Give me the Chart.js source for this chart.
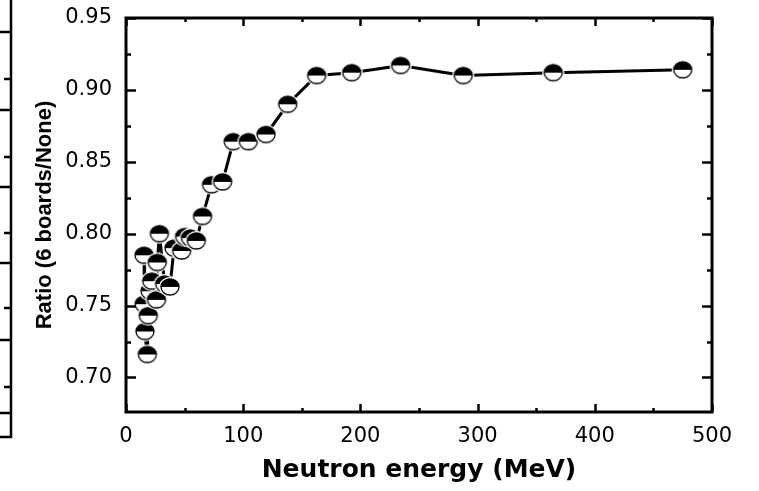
<!DOCTYPE html>
<html>
<head>
<meta charset="utf-8">
<script src="https://cdn.jsdelivr.net/npm/chart.js@4/dist/chart.umd.min.js"></script>
<style>
  html, body { margin: 0; padding: 0; background: #fff; }
  #wrap { width: 759px; height: 491px; position: relative; }
</style>
</head>
<body>
<div id="wrap"><canvas id="c" width="759" height="491"></canvas></div>
<script>
// Neutron energy (MeV) and transmission ratio with 6 boards vs. none
const energy = [15.4, 15.5, 16.2, 18.2, 19.0, 20.5, 22.0, 26.0, 26.7, 28.5,
                33.0, 37.5, 41.0, 47.5, 50.0, 55.0, 60.0, 65.3, 73.0, 82.4,
                91.5, 104.4, 119.5, 138.0, 162.7, 192.6, 234.3, 287.8, 364.6, 475.0];
const ratio  = [0.785, 0.751, 0.732, 0.716, 0.743, 0.760, 0.767, 0.754, 0.780, 0.800,
                0.765, 0.763, 0.790, 0.788, 0.798, 0.797, 0.795, 0.812, 0.834, 0.836,
                0.864, 0.864, 0.869, 0.890, 0.910, 0.912, 0.917, 0.910, 0.912, 0.914];

const xTicks = [0, 100, 200, 300, 400, 500];
const xMinor = [50, 150, 250, 350, 450];
const yTicks = [0.70, 0.75, 0.80, 0.85, 0.90, 0.95];
const yMinor = [0.725, 0.775, 0.825, 0.875, 0.925];

const xTitle = 'Neutron energy (MeV)';
const yTitle = 'Ratio (6 boards/None)';

// Half-filled circle symbol (upper half black) with a white rim that opens the line
function halfDisc() {
  const c = document.createElement('canvas');
  c.width = 26; c.height = 24;
  const g = c.getContext('2d');
  const cx = 13, cy = 12, rx = 9, ry = 8;
  g.fillStyle = '#fff';
  g.beginPath(); g.ellipse(cx, cy, rx + 2, ry + 2, 0, 0, Math.PI * 2); g.fill();
  g.beginPath(); g.ellipse(cx, cy, rx, ry, 0, Math.PI, Math.PI * 2); g.closePath();
  g.fillStyle = '#000'; g.fill();
  g.beginPath(); g.ellipse(cx, cy, rx, ry, 0, 0, Math.PI * 2);
  g.strokeStyle = '#000'; g.lineWidth = 1.3; g.stroke();
  return c;
}

// Box frame with inward major/minor ticks on all four sides
const frameTicks = {
  id: 'frameTicks',
  afterDatasetsDraw(chart) {
    const { ctx, chartArea: a, scales: { x, y } } = chart;
    const seg = (x1, y1, x2, y2) => { ctx.beginPath(); ctx.moveTo(x1, y1); ctx.lineTo(x2, y2); ctx.stroke(); };
    ctx.save();
    ctx.strokeStyle = '#000';
    ctx.lineWidth = 2.5;
    const tick = (vals, len) => {
      vals.forEach(v => {
        const px = Math.round(x.getPixelForValue(v)) + 0.5;
        seg(px, a.bottom, px, a.bottom - len);
        seg(px, a.top, px, a.top + len);
      });
    };
    const ytick = (vals, len) => {
      vals.forEach(v => {
        const py = Math.round(y.getPixelForValue(v)) + 0.5;
        seg(a.left, py, a.left + len, py);
        seg(a.right, py, a.right - len, py);
      });
    };
    tick(xTicks, 8); tick(xMinor, 4);
    ytick(yTicks, 10); ytick(yMinor, 5);
    ctx.lineWidth = 3;
    ctx.strokeRect(a.left, a.top, a.right - a.left, a.bottom - a.top);
    ctx.restore();
  }
};

// Right edge of the adjacent panel's frame, with its inward ticks
const neighbourEdge = {
  id: 'neighbourEdge',
  afterDraw(chart) {
    const ctx = chart.ctx;
    ctx.save();
    ctx.strokeStyle = '#000';
    ctx.lineWidth = 2.5;
    ctx.beginPath();
    ctx.moveTo(11, 0); ctx.lineTo(11, 437); ctx.lineTo(0, 437);
    [32, 110, 187, 263, 340, 413].forEach(v => { ctx.moveTo(11, v); ctx.lineTo(0, v); });
    [79, 157, 233, 308, 387].forEach(v => { ctx.moveTo(11, v); ctx.lineTo(4, v); });
    ctx.stroke();
    ctx.restore();
  }
};

const points = energy.map((e, i) => ({ x: e, y: ratio[i] }));

new Chart(document.getElementById('c'), {
  type: 'line',
  data: {
    datasets: [{
      data: points,
      borderColor: '#000',
      borderWidth: 3,
      tension: 0,
      pointStyle: halfDisc(),
      pointRadius: 9,
      pointHoverRadius: 9
    }]
  },
  options: {
    responsive: false,
    animation: false,
    events: [],
    layout: { padding: { top: 18, right: 47, left: 0, bottom: 0 } },
    plugins: { legend: { display: false }, tooltip: { enabled: false } },
    scales: {
      x: {
        type: 'linear',
        min: 0, max: 500,
        afterBuildTicks: s => { s.ticks = xTicks.map(v => ({ value: v })); },
        afterFit: s => { s.height = 79; s.paddingLeft = 0; s.paddingRight = 0; },
        grid: { display: false, drawTicks: false },
        border: { display: false },
        ticks: {
          padding: 12,
          color: '#000',
          font: { family: 'DejaVu Sans', size: 21 },
          maxRotation: 0,
          callback: v => String(v)
        },
        title: {
          display: true,
          text: xTitle,
          color: '#000',
          font: { family: 'DejaVu Sans', size: 25, weight: 'bold' },
          padding: { top: 0, bottom: 6 }
        }
      },
      y: {
        type: 'linear',
        min: 0.676, max: 0.95,
        afterBuildTicks: s => { s.ticks = yTicks.map(v => ({ value: v })); },
        afterFit: s => { s.width = 126; s.paddingTop = 0; s.paddingBottom = 0; },
        grid: { display: false, drawTicks: false },
        border: { display: false },
        ticks: {
          padding: 14,
          color: '#000',
          font: { family: 'DejaVu Sans', size: 21 },
          callback: v => v.toFixed(2)
        },
        title: {
          display: true,
          text: yTitle,
          color: '#000',
          font: { family: 'Liberation Sans', size: 22, weight: 'bold' },
          padding: { top: 32, bottom: 0 }
        }
      }
    }
  },
  plugins: [frameTicks, neighbourEdge]
});
</script>
</body>
</html>
